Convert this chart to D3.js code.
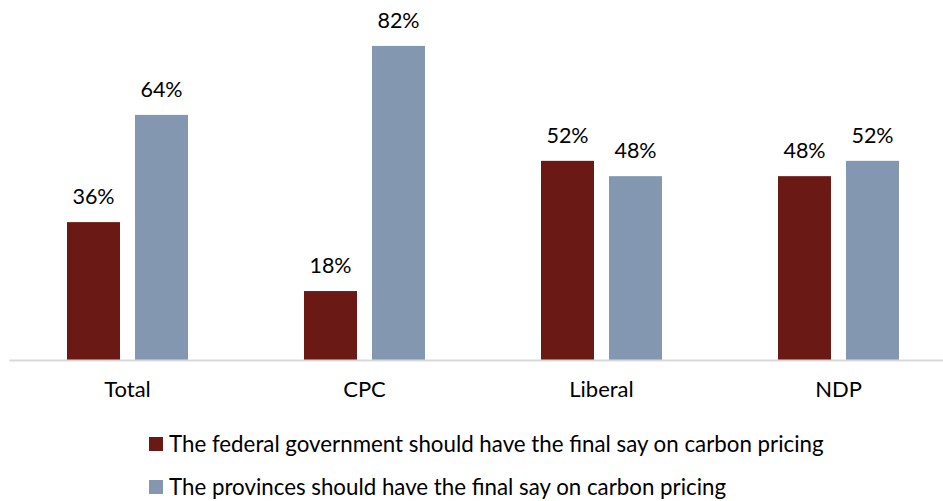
<!DOCTYPE html>
<html>
<head>
<meta charset="utf-8">
<script src="https://cdn.jsdelivr.net/npm/d3@7"></script>
<style>
  html, body { margin: 0; padding: 0; background: #fff; }
  text { font-family: "Lato", "Open Sans", sans-serif; fill: #000; }
</style>
</head>
<body>
<svg id="chart" width="943" height="501"></svg>
<script>
const categories = ["Total", "CPC", "Liberal", "NDP"];
const seriesNames = [
  "The federal government should have the final say on carbon pricing",
  "The provinces should have the final say on carbon pricing"
];
const federalValues = [36, 18, 52, 48];
const provincesValues = [64, 82, 48, 52];
const colors = ["#6A1914", "#8497B0"];

const svg = d3.select("#chart");
const baseline = 360;
const x0 = d3.scaleBand().domain(categories).range([9, 957]);
const y = d3.scaleLinear().domain([0, 90]).range([baseline, baseline - 90 * 3.83]);
const barW = 53, gap = 15;
const x1 = d3.scaleOrdinal().domain([0, 1]).range([-(gap / 2) - barW, gap / 2]);

const data = categories.map((c, i) => ({ cat: c, vals: [federalValues[i], provincesValues[i]] }));

const groups = svg.selectAll("g.cat").data(data).join("g")
  .attr("class", "cat")
  .attr("transform", d => `translate(${x0(d.cat) + x0.bandwidth() / 2},0)`);

groups.selectAll("rect").data(d => d.vals.map((v, j) => ({ v, j }))).join("rect")
  .attr("x", d => x1(d.j))
  .attr("width", barW)
  .attr("y", d => y(d.v))
  .attr("height", d => baseline - y(d.v))
  .attr("fill", d => colors[d.j]);

groups.selectAll("text.lbl").data(d => d.vals.map((v, j) => ({ v, j }))).join("text")
  .attr("class", "lbl")
  .attr("x", d => x1(d.j) + barW / 2)
  .attr("y", d => y(d.v) - 18)
  .attr("text-anchor", "middle")
  .style("font-size", "21.5px")
  .text(d => d.v + "%");

// axis
const axis = d3.axisBottom(x0).tickSize(0).tickPadding(21);
const ag = svg.append("g").attr("transform", `translate(0,${baseline})`).call(axis);
ag.select(".domain").attr("stroke", "#d9d9d9").attr("stroke-width", 2);
ag.selectAll("text").style("font-size", "22px").style("font-family", "Lato, 'Open Sans', sans-serif").attr("fill", "#000");

// legend
const leg = svg.append("g");
seriesNames.forEach((name, i) => {
  const yy = 444 + i * 43;
  leg.append("rect").attr("x", 149).attr("y", yy - 7).attr("width", 14).attr("height", 14).attr("fill", colors[i]);
  leg.append("text").attr("x", 169).attr("y", yy).attr("dy", "0.35em").style("font-size", "22.3px").text(name);
});
</script>
</body>
</html>
